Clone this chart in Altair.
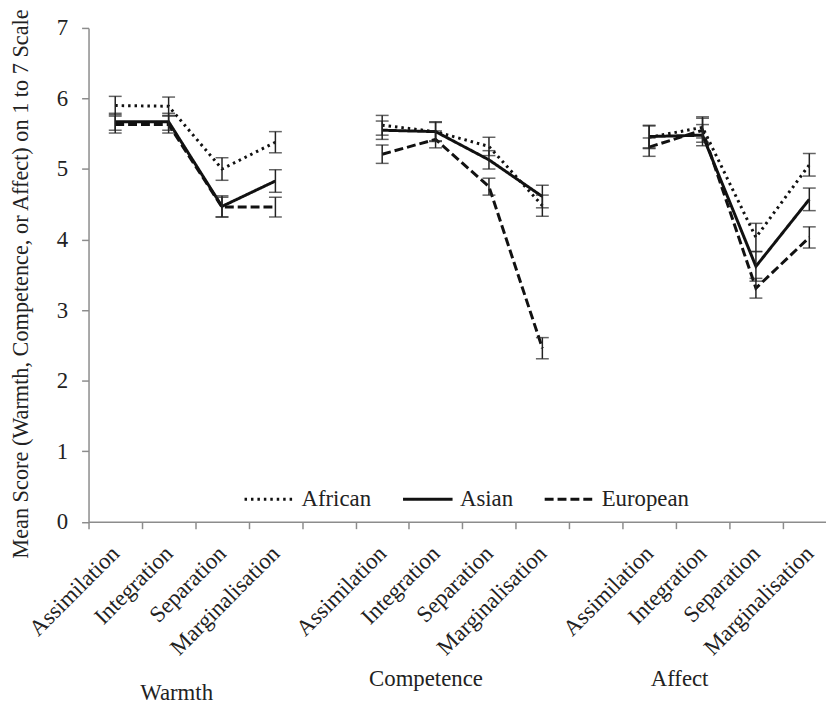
import altair as alt
import pandas as pd

dimensions = ["Warmth", "Competence", "Affect"]
strategies = ["Assimilation", "Integration", "Separation", "Marginalisation"]
origins = ["African", "Asian", "European"]

means = {
    "African": {"Warmth": [5.90, 5.89, 5.00, 5.38],
                "Competence": [5.62, 5.53, 5.32, 4.48],
                "Affect": [5.45, 5.59, 4.03, 5.06]},
    "Asian": {"Warmth": [5.67, 5.67, 4.47, 4.83],
              "Competence": [5.55, 5.53, 5.13, 4.61],
              "Affect": [5.46, 5.48, 3.62, 4.57]},
    "European": {"Warmth": [5.63, 5.63, 4.46, 4.46],
                 "Competence": [5.21, 5.42, 4.75, 2.46],
                 "Affect": [5.31, 5.55, 3.31, 4.03]},
}
errors = {
    "African": {"Warmth": [0.13, 0.13, 0.16, 0.15],
                "Competence": [0.14, 0.13, 0.13, 0.15],
                "Affect": [0.16, 0.15, 0.20, 0.16]},
    "Asian": {"Warmth": [0.12, 0.12, 0.15, 0.16],
              "Competence": [0.13, 0.14, 0.13, 0.16],
              "Affect": [0.16, 0.15, 0.21, 0.16]},
    "European": {"Warmth": [0.12, 0.12, 0.14, 0.14],
                 "Competence": [0.13, 0.12, 0.12, 0.15],
                 "Affect": [0.13, 0.17, 0.14, 0.15]},
}

# slot labels along the category axis (blank slot between groups)
slot_labels = (strategies + [""]) * 2 + strategies
group_label_pos = [1.65, 6.32, 11.07]

rows = []
for o in origins:
    for d_i, d in enumerate(dimensions):
        for s_i, s in enumerate(strategies):
            m = means[o][d][s_i]
            e = errors[o][d][s_i]
            rows.append({"origin": o, "dimension": d, "strategy": s,
                         "pos": d_i * 5 + s_i + 0.5, "mean": m,
                         "lo": m - e, "hi": m + e})
df = pd.DataFrame(rows)
groups_df = pd.DataFrame({"name": dimensions, "pos": group_label_pos})

FONT = "Times New Roman, Liberation Serif, Tinos, DejaVu Serif, serif"
SLOT = 53.9
WIDTH = 744.5
XMAX = WIDTH / SLOT

label_array = "[" + ",".join("'" + l + "'" for l in slot_labels) + "]"

x_enc = alt.X(
    "pos:Q",
    scale=alt.Scale(domain=[0, XMAX], nice=False, zero=False),
    axis=alt.Axis(
        values=[i + 0.5 for i in range(len(slot_labels))],
        labelExpr=label_array + "[floor(datum.value)]",
        tickOffset=-SLOT / 2,
        labelOffset=SLOT / 2,
        labelAngle=-45,
        labelAlign="right",
        labelBaseline="middle",
        labelPadding=21,
        labelOverlap=False,
        labelBound=False,
        labelFlush=False,
        title=None,
        tickSize=7,
    ),
)
y_enc = alt.Y(
    "mean:Q",
    scale=alt.Scale(domain=[0, 7], nice=False),
    axis=alt.Axis(
        values=list(range(8)),
        format="d",
        title="Mean Score (Warmth, Competence, or Affect) on 1 to 7 Scale",
        titleFontSize=22.5,
        titleX=-69,
        titleY=258,
        titleAngle=-90,
        titleAlign="center",
        titleBaseline="middle",
        labelPadding=14,
        tickSize=7,
    ),
)

base = alt.Chart(df)

lines = base.mark_line(strokeWidth=3, color="#111111").encode(
    x=x_enc,
    y=y_enc,
    strokeDash=alt.StrokeDash(
        "origin:N",
        scale=alt.Scale(domain=origins, range=[[2.5, 4], [1, 0], [9, 4]]),
        legend=alt.Legend(
            title=None,
            orient="none",
            legendX=156,
            legendY=449,
            direction="horizontal",
            symbolType="stroke",
            symbolSize=2500,
            symbolStrokeWidth=3,
            symbolStrokeColor="#111111",
            labelFont=FONT,
            labelFontSize=23,
            labelColor="#222222",
            labelOffset=6,
            columnPadding=25,
        ),
    ),
    detail="dimension:N",
)

rules = base.mark_rule(color="#222222", strokeWidth=1.5).encode(
    x="pos:Q", y="lo:Q", y2="hi:Q"
)
caps_lo = base.mark_tick(orient="horizontal", size=13, thickness=1.5,
                         color="#222222").encode(x="pos:Q", y="lo:Q")
caps_hi = base.mark_tick(orient="horizontal", size=13, thickness=1.5,
                         color="#222222").encode(x="pos:Q", y="hi:Q")

gbase = alt.Chart(groups_df)
glabels_a = gbase.transform_filter(alt.datum.name != "Warmth").mark_text(
    font=FONT, fontSize=23, color="#222222", baseline="middle", align="center"
).encode(x="pos:Q", y=alt.value(657), text="name:N")
glabels_b = gbase.transform_filter(alt.datum.name == "Warmth").mark_text(
    font=FONT, fontSize=23, color="#222222", baseline="middle", align="center"
).encode(x="pos:Q", y=alt.value(671), text="name:N")

chart = alt.layer(lines, rules, caps_lo, caps_hi, glabels_a, glabels_b).properties(
    width=WIDTH,
    height=498.5,
    autosize=alt.AutoSizeParams(type="none"),
    padding={"left": 81.3, "top": 16.8, "right": 0, "bottom": 181.7},
).configure_view(stroke=None).configure_axis(
    grid=False,
    domainColor="#8c8c8c",
    domainWidth=1.5,
    tickColor="#8c8c8c",
    tickWidth=1.5,
    labelFont=FONT,
    labelFontSize=23,
    labelColor="#222222",
    titleFont=FONT,
    titleFontWeight="normal",
    titleColor="#222222",
).configure_text(font=FONT)

chart.save("out.html", embed_options={"renderer": "svg", "actions": False})
